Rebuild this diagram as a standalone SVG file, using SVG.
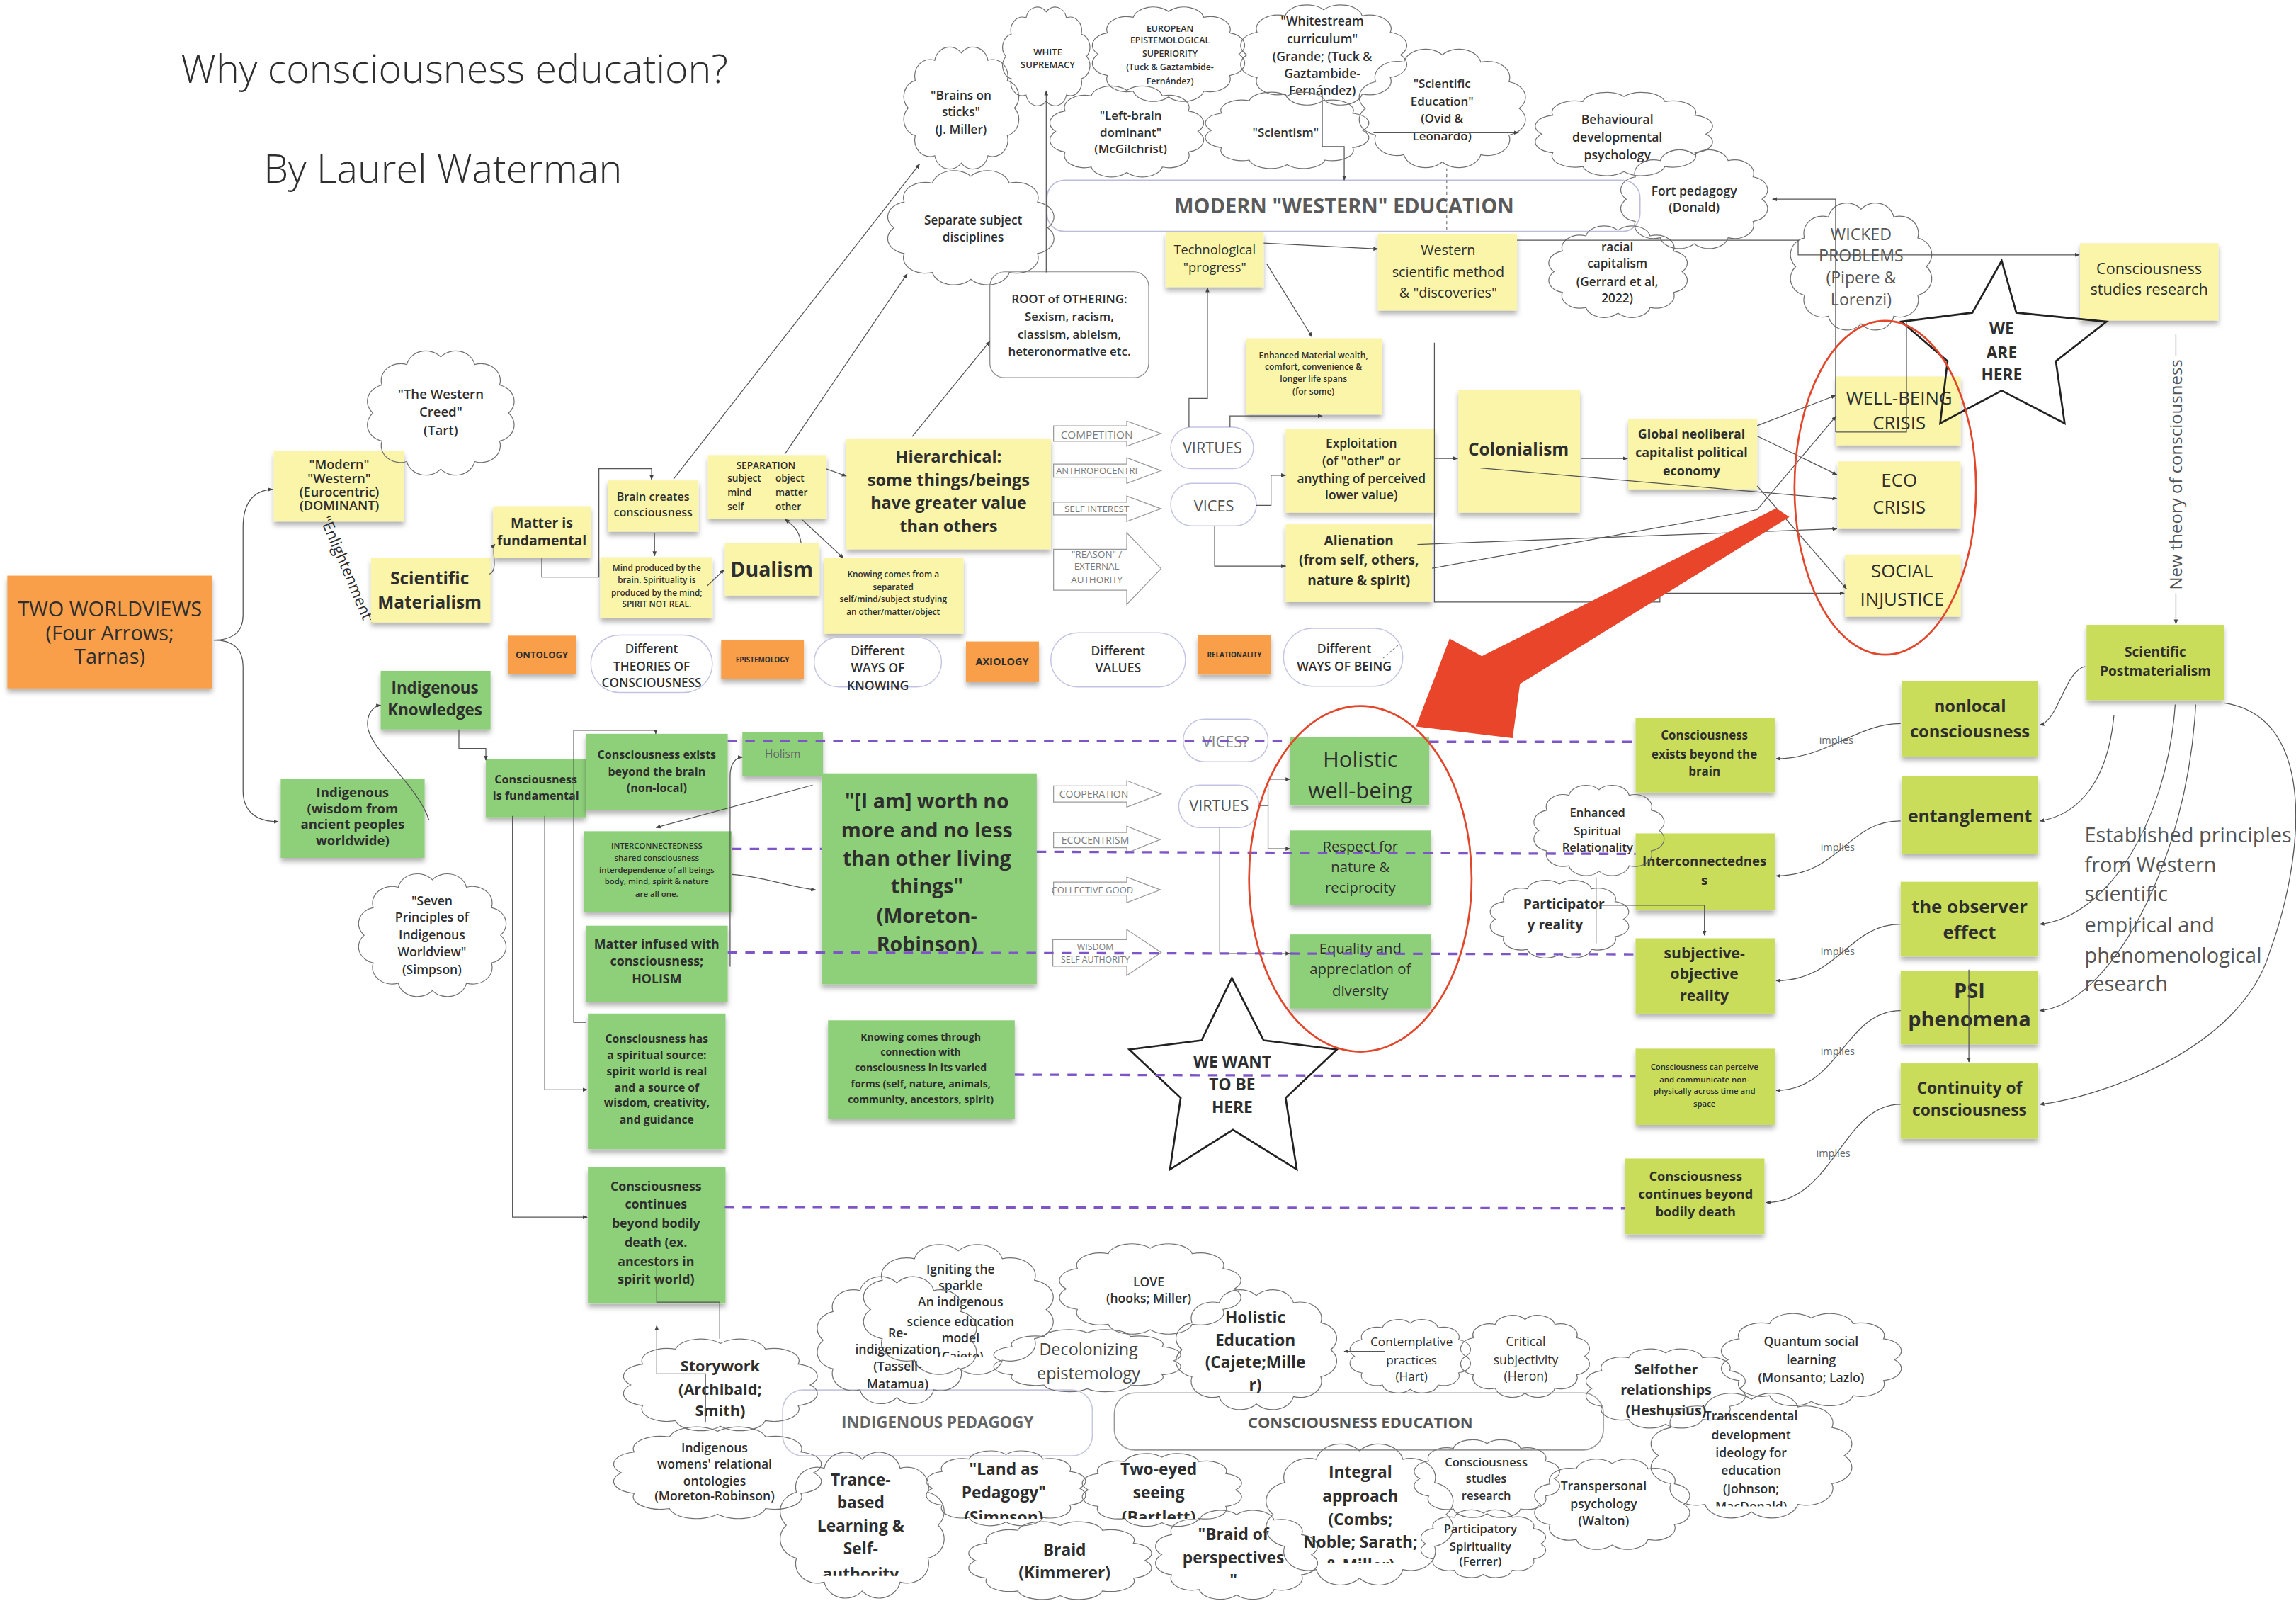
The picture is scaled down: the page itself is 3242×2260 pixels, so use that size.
<svg xmlns="http://www.w3.org/2000/svg" width="3242" height="2260" viewBox="0 0 3242 2260">
<defs>
<style>
text{font-family:'Open Sans','Liberation Sans',sans-serif;fill:#2e2e2e;text-anchor:middle}
.b{font-weight:700}
.sb{font-weight:600}
.st{text-anchor:start}
.y{fill:#faf5a8;filter:url(#sh)}
.g{fill:#8ed07a;filter:url(#sh)}
.l{fill:#c9dd5a;filter:url(#sh)}
.o{fill:#fa9f48;filter:url(#sh)}
.pill{fill:#fff;stroke:#c3c3e3;stroke-width:0.7}
.ba{fill:#fff;stroke:#9a9a9a;stroke-width:0.6}
.gt{fill:#7a7a7a}
.ln{fill:none;stroke:#555;stroke-width:0.6;marker-end:url(#ah)}
.ln0{fill:none;stroke:#555;stroke-width:0.6}
.dash{fill:none;stroke:#7d55c7;stroke-width:1.6;stroke-dasharray:6.5 5.5}
.red{fill:none;stroke:#e2472c;stroke-width:1.3}
.star{fill:none;stroke:#222;stroke-width:1.3}
.cl{fill:none;stroke:#707070;stroke-width:1.2}
</style>
<marker id="ah" viewBox="0 0 10 10" refX="9" refY="5" markerWidth="3.4" markerHeight="3.4" markerUnits="userSpaceOnUse" orient="auto"><path d="M0,1 L10,5 L0,9 Z" fill="#444"/></marker>
<filter id="sh" x="-10%" y="-10%" width="120%" height="140%"><feDropShadow dx="0" dy="2.6" stdDeviation="1.8" flood-color="#000" flood-opacity="0.3"/></filter>
<symbol id="cloud" viewBox="-48 -46 96 92" preserveAspectRatio="none" overflow="visible"><path class="cl" vector-effect="non-scaling-stroke" d="M42,0 A12,12 0 0 1 36.4,20 A12,12 0 0 1 21,34.6 A12,12 0 0 1 0,40 A12,12 0 0 1 -21,34.6 A12,12 0 0 1 -36.4,20 A12,12 0 0 1 -42,0 A12,12 0 0 1 -36.4,-20 A12,12 0 0 1 -21,-34.6 A12,12 0 0 1 0,-40 A12,12 0 0 1 21,-34.6 A12,12 0 0 1 36.4,-20 A12,12 0 0 1 42,0 Z"/></symbol>
<clipPath id="cWs"><rect x="840" y="0" width="130" height="66"/></clipPath>
<clipPath id="cIg"><rect x="580" y="840" width="150" height="86.5"/></clipPath>
<clipPath id="cTr"><rect x="520" y="985" width="140" height="91"/></clipPath>
<clipPath id="cLa"><rect x="620" y="985" width="250" height="52"/></clipPath>
<clipPath id="cIn"><rect x="850" y="980" width="160" height="87"/></clipPath>
<clipPath id="cTc"><rect x="1110" y="940" width="170" height="88.5"/></clipPath>
</defs>
<rect width="3242" height="2260" fill="#fff"/>
<g transform="scale(2.0676)">

<g id="n-title">
<text class="st" x="123.5" y="56.6" font-size="26.9" style="font-weight:300" fill="#333">Why consciousness education?</text>
<text class="st" x="180" y="124.6" font-size="26.9" style="font-weight:300">By Laurel Waterman</text>
</g>

<g id="n-two-worldviews"><rect class="o" x="5" y="393" width="140" height="77"/>
<text font-size="14"><tspan x="75" y="421">TWO WORLDVIEWS</tspan><tspan x="75" y="437">(Four Arrows;</tspan><tspan x="75" y="453">Tarnas)</tspan></text></g>

<g id="n-modern"><rect class="y" x="187" y="308" width="89" height="48"/>
<text class="sb" font-size="8.8"><tspan x="231.7" y="320">"Modern"</tspan><tspan x="231.7" y="330">"Western"</tspan><tspan x="231.7" y="339">(Eurocentric)</tspan><tspan x="231.7" y="348">(DOMINANT)</tspan></text></g>

<g id="n-enlightenment"><text transform="translate(234,391) rotate(67)" font-size="10.5" fill="#555">"Enlightenment"</text></g>

<g id="n-western-creed"><use href="#cloud" x="248" y="238" width="106" height="88"/>
<text class="sb" font-size="9"><tspan x="301" y="272.5">"The Western</tspan><tspan x="301" y="284.6">Creed"</tspan><tspan x="301" y="296.8">(Tart)</tspan></text></g>

<g id="n-sci-mat"><rect class="y" x="253.4" y="381" width="81.6" height="44"/>
<text class="b" font-size="11.8"><tspan x="293.4" y="398.8">Scientific</tspan><tspan x="293.4" y="415.3">Materialism</tspan></text></g>

<g id="n-matter-fund"><rect class="y" x="336.8" y="345.6" width="66.7" height="35.4"/>
<text class="b" font-size="9.4"><tspan x="370" y="360.4">Matter is</tspan><tspan x="370" y="372.6">fundamental</tspan></text></g>

<g id="n-brain-creates"><rect class="y" x="415" y="328" width="62" height="35"/>
<text class="sb" font-size="7.8"><tspan x="446" y="342">Brain creates</tspan><tspan x="446" y="352.6">consciousness</tspan></text></g>

<g id="n-mind-produced"><rect class="y" x="410" y="380.4" width="76.6" height="41.6"/>
<text class="sb" font-size="5.7"><tspan x="448.5" y="390">Mind produced by the</tspan><tspan x="448.5" y="397.9">brain. Spirituality is</tspan><tspan x="448.5" y="406.6">produced by the mind;</tspan><tspan x="448.5" y="414.5">SPIRIT NOT REAL.</tspan></text></g>

<g id="n-dualism"><rect class="y" x="495" y="371" width="64.6" height="35.6"/>
<text class="b" font-size="13.8" x="527" y="393.5">Dualism</text></g>

<g id="n-separation"><rect class="y" x="483.5" y="310.7" width="81" height="43.3"/>
<text class="sb" font-size="6.6" x="523" y="320.3">SEPARATION</text>
<text class="sb st" font-size="6.6"><tspan x="496.8" y="329">subject</tspan><tspan x="496.8" y="338.6">mind</tspan><tspan x="496.8" y="348.2">self</tspan></text>
<text class="sb st" font-size="6.6"><tspan x="529.6" y="329">object</tspan><tspan x="529.6" y="338.6">matter</tspan><tspan x="529.6" y="348.2">other</tspan></text></g>

<g id="n-knowing-separated"><rect class="y" x="563" y="381" width="95" height="51.7"/>
<text class="sb" font-size="5.7"><tspan x="610" y="394.4">Knowing comes from a</tspan><tspan x="610" y="403.1">separated</tspan><tspan x="610" y="411">self/mind/subject studying</tspan><tspan x="610" y="419.7">an other/matter/object</tspan></text></g>

<g id="n-hierarchical"><rect class="y" x="578" y="299.4" width="139.7" height="75.6"/>
<text class="b" font-size="11.4"><tspan x="647.8" y="316">Hierarchical:</tspan><tspan x="647.8" y="331.6">some things/beings</tspan><tspan x="647.8" y="347.2">have greater value</tspan><tspan x="647.8" y="363">than others</tspan></text></g>

<g id="n-competition"><path class="ba" d="M719.5,290.7 H769.5 V287.5 L792.9,296 L769.5,304.6 V301.2 H719.5 Z"/><text class="gt" font-size="7.4" x="749" y="299.4">COMPETITION</text></g>
<g id="n-anthropocentri"><path class="ba" d="M719.5,316.8 H769.5 V312.5 L792.9,321.3 L769.5,330 V325.8 H719.5 Z"/><text class="gt" font-size="6.3" x="749" y="323.6">ANTHROPOCENTRI</text></g>
<g id="n-self-interest"><path class="ba" d="M719.5,342.9 H769.5 V338.6 L792.9,347.3 L769.5,356 V351.6 H719.5 Z"/><text class="gt" font-size="6.5" x="749" y="349.6">SELF INTEREST</text></g>
<g id="n-reason"><path class="ba" d="M719.5,375 H769.5 V363.7 L792.9,388.2 L769.5,412.6 V403 H719.5 Z"/><text class="gt" font-size="6.5"><tspan x="749" y="380.4">"REASON" /</tspan><tspan x="749" y="389">EXTERNAL</tspan><tspan x="749" y="397.9">AUTHORITY</tspan></text></g>

<g id="n-virtues-top"><rect class="pill" x="799.5" y="291.6" width="56.5" height="28.4" rx="14.2"/><text font-size="10.5" x="828" y="309.5" style="fill:#555">VIRTUES</text></g>
<g id="n-vices-top"><rect class="pill" x="799.5" y="330" width="58.5" height="29" rx="14.5"/><text font-size="10.5" x="829" y="349" style="fill:#555">VICES</text></g>

<g id="n-exploitation"><rect class="y" x="878" y="293" width="102" height="57"/>
<text class="sb" font-size="8.4"><tspan x="929.7" y="305.5">Exploitation</tspan><tspan x="929.7" y="317.7">(of "other" or</tspan><tspan x="929.7" y="330">anything of perceived</tspan><tspan x="929.7" y="341.2">lower value)</tspan></text></g>

<g id="n-alienation"><rect class="y" x="878" y="358" width="100" height="53"/>
<text class="b" font-size="9.2"><tspan x="928" y="372.6">Alienation</tspan><tspan x="928" y="385.7">(from self, others,</tspan><tspan x="928" y="399.6">nature &amp; spirit)</tspan></text></g>

<g id="n-colonialism"><rect class="y" x="996" y="266" width="83" height="84"/><text class="b" font-size="11.8" x="1037" y="311">Colonialism</text></g>

<g id="n-global"><rect class="y" x="1112" y="286" width="88" height="48"/>
<text class="b" font-size="8.6"><tspan x="1155.2" y="299.4">Global neoliberal</tspan><tspan x="1155.2" y="312">capitalist political</tspan><tspan x="1155.2" y="324.7">economy</tspan></text></g>

<g id="n-wellbeing-crisis"><rect class="y" x="1254" y="257" width="85" height="47"/><text font-size="12.5"><tspan x="1297" y="276">WELL-BEING</tspan><tspan x="1297" y="293.3">CRISIS</tspan></text></g>
<g id="n-eco-crisis"><rect class="y" x="1255" y="315" width="84" height="46"/><text font-size="12.5"><tspan x="1297" y="332.5">ECO</tspan><tspan x="1297" y="350.8">CRISIS</tspan></text></g>
<g id="n-social-injustice"><rect class="y" x="1260" y="378.6" width="79" height="42.4"/><text font-size="12.5"><tspan x="1299" y="394.4">SOCIAL</tspan><tspan x="1299" y="413.5">INJUSTICE</tspan></text></g>

<g id="n-modern-western-education"><rect x="715" y="123" width="405" height="35" rx="12" fill="#fff" stroke="#bdbddb" stroke-width="0.8"/><text class="b" font-size="14" x="918" y="145.5" style="fill:#5a5a5a">MODERN "WESTERN" EDUCATION</text></g>

<g id="n-technological"><rect class="y" x="796" y="158.6" width="67" height="37.4"/><text font-size="8.8"><tspan x="829.6" y="173.4">Technological</tspan><tspan x="829.6" y="185.6">"progress"</tspan></text></g>
<g id="n-western-method"><rect class="y" x="941" y="159.5" width="95" height="52.5"/><text font-size="9.6"><tspan x="989" y="174.3">Western</tspan><tspan x="989" y="189.1">scientific method</tspan><tspan x="989" y="203">&amp; "discoveries"</tspan></text></g>
<g id="n-enhanced-material"><rect class="y" x="851" y="231" width="93" height="52"/><text class="sb" font-size="5.8"><tspan x="897" y="244.9">Enhanced Material wealth,</tspan><tspan x="897" y="252.7">comfort,  convenience &amp;</tspan><tspan x="897" y="260.5">longer life spans</tspan><tspan x="897" y="269.3">(for some)</tspan></text></g>

<g id="n-root-othering"><rect x="676" y="185.6" width="108.5" height="72.3" rx="10" fill="#fff" stroke="#888" stroke-width="0.6"/>
<text class="sb" font-size="8.2"><tspan x="730.3" y="207">ROOT of OTHERING:</tspan><tspan x="730.3" y="219.3">Sexism, racism,</tspan><tspan x="730.3" y="231">classism, ableism,</tspan><tspan x="730.3" y="243">heteronormative etc.</tspan></text></g>

<g id="n-brains-sticks"><use href="#cloud" x="615" y="30.5" width="83" height="86.5"/><text class="sb" font-size="8.3"><tspan x="656.3" y="68">"Brains on</tspan><tspan x="656.3" y="79.3">sticks"</tspan><tspan x="656.3" y="91.5">(J. Miller)</tspan></text></g>
<g id="n-white-supremacy"><use href="#cloud" x="683" y="3.5" width="63" height="70"/><text class="sb" font-size="6.3"><tspan x="715.6" y="37.5">WHITE</tspan><tspan x="715.6" y="46.2">SUPREMACY</tspan></text></g>
<g id="n-european"><use href="#cloud" x="743" y="3.5" width="110" height="67"/><text class="sb" font-size="6"><tspan x="799" y="21.8">EUROPEAN</tspan><tspan x="799" y="29.7">EPISTEMOLOGICAL</tspan><tspan x="799" y="38.7">SUPERIORITY</tspan><tspan x="799" y="47.9">(Tuck &amp; Gaztambide-</tspan><tspan x="799" y="57.5">Fernández)</tspan></text></g>
<g id="n-whitestream"><use href="#cloud" x="844" y="2" width="120" height="71"/><text class="sb" font-size="8.5"><tspan x="903" y="17.4">"Whitestream</tspan><tspan x="903" y="29.6">curriculum"</tspan><tspan x="903" y="41.8">(Grande; (Tuck &amp;</tspan><tspan x="903" y="53.2">Gaztambide-</tspan></text><text class="sb" font-size="8.5" x="903" y="64.8" clip-path="url(#cWs)">Fernández)</text></g>
<g id="n-left-brain"><use href="#cloud" x="714" y="57.5" width="111" height="64.5"/><text class="sb" font-size="8.2"><tspan x="772.2" y="81.9">"Left-brain</tspan><tspan x="772.2" y="93.2">dominant"</tspan><tspan x="772.2" y="104.5">(McGilchrist)</tspan></text></g>
<g id="n-scientism"><use href="#cloud" x="820" y="62" width="118" height="54"/><text class="sb" font-size="8.2" x="878" y="93.2">"Scientism"</text></g>
<g id="n-scientific-education"><use href="#cloud" x="925" y="32" width="120" height="84"/><text class="sb" font-size="8.2"><tspan x="984.8" y="60.1">"Scientific</tspan><tspan x="984.8" y="72.3">Education"</tspan><tspan x="984.8" y="83.7">(Ovid &amp;</tspan><tspan x="984.8" y="95.8">Leonardo)</tspan></text></g>
<g id="n-behavioural"><use href="#cloud" x="1045" y="62" width="128" height="59"/><text class="sb" font-size="8.5"><tspan x="1104.5" y="84.5">Behavioural</tspan><tspan x="1104.5" y="96.7">developmental</tspan><tspan x="1104.5" y="108.9">psychology</tspan></text></g>
<g id="n-fort"><use href="#cloud" x="1104" y="101" width="106" height="70"/><text class="sb" font-size="8.5"><tspan x="1157" y="133.3">Fort pedagogy</tspan><tspan x="1157" y="144.6">(Donald)</tspan></text></g>
<g id="n-racial"><use href="#cloud" x="1055" y="153" width="100" height="65"/><text class="sb" font-size="8.3"><tspan x="1104.5" y="171.7">racial</tspan><tspan x="1104.5" y="183">capitalism</tspan><tspan x="1104.5" y="195.2">(Gerrard et al,</tspan><tspan x="1104.5" y="206.5">2022)</tspan></text></g>
<g id="n-wicked"><use href="#cloud" x="1220" y="137" width="102" height="90"/><text font-size="11.2" style="fill:#555"><tspan x="1271" y="163.8">WICKED</tspan><tspan x="1271" y="178.7">PROBLEMS</tspan><tspan x="1271" y="193.5">(Pipere &amp;</tspan><tspan x="1271" y="208.3">Lorenzi)</tspan></text></g>
<g id="n-separate-subject"><use href="#cloud" x="603" y="115" width="120" height="81"/><text class="sb" font-size="8.3"><tspan x="664.6" y="153.4">Separate subject</tspan><tspan x="664.6" y="164.7">disciplines</tspan></text></g>

<g id="n-cs-research"><rect class="y" x="1420.5" y="166" width="94.5" height="52.8"/><text font-size="10.5"><tspan x="1467.7" y="187">Consciousness</tspan><tspan x="1467.7" y="201">studies research</tspan></text></g>

<g id="n-we-are-here"><polygon class="star" points="1367,178 1377,213.5 1438.6,219.6 1404,246.6 1410,289 1367,266.7 1325,289 1330,246.6 1298.6,219.6 1347,213.5"/><text class="b" font-size="11"><tspan x="1367" y="228.3">WE</tspan><tspan x="1367" y="244.9">ARE</tspan><tspan x="1367" y="259.7">HERE</tspan></text></g>

<g id="n-new-theory"><text transform="translate(1490,324) rotate(-90)" font-size="11.6" style="fill:#555">New theory of consciousness</text></g>

<g id="n-postmat"><rect class="l" x="1425" y="426.6" width="93.7" height="51.4"/><text class="b" font-size="9.2"><tspan x="1472" y="448.4">Scientific</tspan><tspan x="1472" y="461.4">Postmaterialism</tspan></text></g>
<g id="n-nonlocal"><rect class="l" x="1298.6" y="465" width="93.4" height="51.5"/><text class="b" font-size="11.5"><tspan x="1345.3" y="485.9">nonlocal</tspan><tspan x="1345.3" y="503.3">consciousness</tspan></text></g>
<g id="n-entanglement"><rect class="l" x="1298.6" y="530" width="93.4" height="53"/><text class="b" font-size="12" x="1345.3" y="561.3">entanglement</text></g>
<g id="n-observer"><rect class="l" x="1298" y="602" width="94" height="51"/><text class="b" font-size="12.5"><tspan x="1345" y="623.2">the observer</tspan><tspan x="1345" y="640.7">effect</tspan></text></g>
<g id="n-psi"><rect class="l" x="1298" y="662.6" width="94" height="50.4"/><text class="b" font-size="14"><tspan x="1345" y="681.5">PSI</tspan><tspan x="1345" y="700.8">phenomena</tspan></text></g>
<g id="n-continuity"><rect class="l" x="1298" y="726" width="94" height="51.5"/><text class="b" font-size="11"><tspan x="1345" y="747">Continuity of</tspan><tspan x="1345" y="761.7">consciousness</tspan></text></g>

<g id="n-l-exists"><rect class="l" x="1117" y="490" width="95" height="51"/><text class="b" font-size="8.2"><tspan x="1164" y="505">Consciousness</tspan><tspan x="1164" y="518">exists beyond the</tspan><tspan x="1164" y="529.5">brain</tspan></text></g>
<g id="n-l-interconnectedness"><rect class="l" x="1117" y="569" width="95" height="52.5"/><text class="b" font-size="9"><tspan x="1164" y="591">Interconnectednes</tspan><tspan x="1164" y="604">s</tspan></text></g>
<g id="n-l-subjective"><rect class="l" x="1117" y="640.6" width="95" height="51.4"/><text class="b" font-size="10.2"><tspan x="1164" y="654.6">subjective-</tspan><tspan x="1164" y="668.5">objective</tspan><tspan x="1164" y="683.4">reality</tspan></text></g>
<g id="n-l-perceive"><rect class="l" x="1117" y="716" width="95" height="52"/><text class="sb" font-size="5.5"><tspan x="1164" y="730.3">Consciousness can perceive</tspan><tspan x="1164" y="739">and communicate non-</tspan><tspan x="1164" y="747">physically across time and</tspan><tspan x="1164" y="755.6">space</tspan></text></g>
<g id="n-l-continues"><rect class="l" x="1110" y="791" width="95" height="51.6"/><text class="b" font-size="8.8"><tspan x="1158" y="806.2">Consciousness</tspan><tspan x="1158" y="818.2">continues beyond</tspan><tspan x="1158" y="830.2">bodily death</tspan></text></g>

<g id="n-established"><text class="st" font-size="14" style="fill:#555"><tspan x="1423.6" y="575.3">Established principles</tspan><tspan x="1423.6" y="595.4">from Western</tspan><tspan x="1423.6" y="615.3">scientific</tspan><tspan x="1423.6" y="636.3">empirical and</tspan><tspan x="1423.6" y="657.2">phenomenological</tspan><tspan x="1423.6" y="676.4">research</tspan></text></g>

<g id="n-enhanced-spiritual"><use href="#cloud" x="1045" y="535" width="94" height="64"/><text class="sb" font-size="8"><tspan x="1091" y="557.8">Enhanced</tspan><tspan x="1091" y="570">Spiritual</tspan><tspan x="1091" y="581.4">Relationality</tspan></text></g>
<g id="n-participatory"><use href="#cloud" x="1015" y="600" width="100" height="55"/><text class="b" font-size="9.3"><tspan x="1068" y="620.5">Participator</tspan><tspan x="1062" y="634.5">y reality</tspan></text></g>

<g id="n-ontology"><rect class="o" x="347" y="434" width="46.5" height="26"/><text class="b" font-size="6.3" x="370" y="449.2">ONTOLOGY</text></g>
<g id="n-theories"><rect class="pill" x="403.5" y="433.6" width="83" height="39.2" rx="19.6"/><text class="sb" font-size="8.3"><tspan x="445" y="445.8">Different</tspan><tspan x="445" y="458">THEORIES OF</tspan><tspan x="445" y="469.3">CONSCIOUSNESS</tspan></text></g>
<g id="n-epistemology"><rect class="o" x="492.5" y="437" width="56.5" height="26.5"/><text class="b" font-size="4.8" x="520.7" y="452">EPISTEMOLOGY</text></g>
<g id="n-knowing"><rect class="pill" x="556" y="435" width="87" height="34" rx="17"/><text class="sb" font-size="8.5"><tspan x="599.5" y="447.6">Different</tspan><tspan x="599.5" y="458.9">WAYS OF</tspan><tspan x="599.5" y="471">KNOWING</tspan></text></g>
<g id="n-axiology"><rect class="o" x="659.7" y="438" width="49.8" height="27.7"/><text class="b" font-size="7" x="684.4" y="454.2">AXIOLOGY</text></g>
<g id="n-values"><rect class="pill" x="717.6" y="432" width="92" height="37" rx="18.5"/><text class="sb" font-size="8.5"><tspan x="763.6" y="447.6">Different</tspan><tspan x="763.6" y="458.9">VALUES</tspan></text></g>
<g id="n-relationality"><rect class="o" x="818" y="433.6" width="50" height="27"/><text class="b" font-size="4.8" x="843" y="449">RELATIONALITY</text></g>
<g id="n-being"><rect class="pill" x="876.5" y="429" width="81.5" height="39.5" rx="19.7"/><text class="sb" font-size="8.5"><tspan x="918" y="445.8">Different</tspan><tspan x="918" y="458">WAYS OF BEING</tspan></text></g>

<g id="n-ind-knowledges"><rect class="g" x="260" y="458" width="75" height="40"/><text class="b" font-size="10.8"><tspan x="297" y="473.7">Indigenous</tspan><tspan x="297" y="488.5">Knowledges</tspan></text></g>
<g id="n-ind-wisdom"><rect class="g" x="191.7" y="532" width="98.3" height="53.7"/><text class="b" font-size="9"><tspan x="240.8" y="544">Indigenous</tspan><tspan x="240.8" y="555.2">(wisdom from</tspan><tspan x="240.8" y="565.7">ancient peoples</tspan><tspan x="240.8" y="577">worldwide)</tspan></text></g>
<g id="n-c-fundamental"><rect class="g" x="331.8" y="518" width="68.2" height="40"/><text class="b" font-size="7.8"><tspan x="366" y="534.7">Consciousness</tspan><tspan x="366" y="546">is fundamental</tspan></text></g>
<g id="n-c-exists"><rect class="g" x="400" y="501" width="97" height="52"/><text class="b" font-size="7.8"><tspan x="448.5" y="518">Consciousness exists</tspan><tspan x="448.5" y="529.5">beyond the brain</tspan><tspan x="448.5" y="540.8">(non-local)</tspan></text></g>
<g id="n-holism"><rect class="g" x="507" y="500" width="55" height="30"/><text font-size="7.5" x="534.5" y="517.3" style="fill:#666">Holism</text></g>
<g id="n-interconnectedness"><rect class="g" x="398.6" y="567.5" width="101.4" height="55"/><text class="sb" font-size="5.5"><tspan x="448.5" y="579.6">INTERCONNECTEDNESS</tspan><tspan x="448.5" y="587.5">shared consciousness</tspan><tspan x="448.5" y="595.7">interdependence of all beings</tspan><tspan x="448.5" y="603.6">body, mind, spirit &amp; nature</tspan><tspan x="448.5" y="612.2">are all one.</tspan></text></g>
<g id="n-matter-infused"><rect class="g" x="400" y="632" width="97" height="52"/><text class="b" font-size="8.6"><tspan x="448.5" y="647.6">Matter infused with</tspan><tspan x="448.5" y="659">consciousness;</tspan><tspan x="448.5" y="671.2">HOLISM</tspan></text></g>
<g id="n-spiritual-source"><rect class="g" x="401.5" y="692" width="94" height="92.6"/><text class="b" font-size="7.6"><tspan x="448.5" y="712">Consciousness has</tspan><tspan x="448.5" y="723">a spiritual source:</tspan><tspan x="448.5" y="734.2">spirit world is real</tspan><tspan x="448.5" y="745.2">and a source of</tspan><tspan x="448.5" y="755.6">wisdom, creativity,</tspan><tspan x="448.5" y="767">and guidance</tspan></text></g>
<g id="n-c-continues"><rect class="g" x="401.5" y="797" width="94" height="93"/><text class="b" font-size="8.6"><tspan x="448" y="813">Consciousness</tspan><tspan x="448" y="825">continues</tspan><tspan x="448" y="838">beyond bodily</tspan><tspan x="448" y="851">death (ex.</tspan><tspan x="448" y="864.3">ancestors in</tspan><tspan x="448" y="876.5">spirit world)</tspan></text></g>
<g id="n-i-am"><rect class="g" x="561" y="528" width="147" height="144"/><text class="b" font-size="13.8"><tspan x="633" y="552">"[I am] worth no</tspan><tspan x="633" y="571.7">more and no less</tspan><tspan x="633" y="591">than other living</tspan><tspan x="633" y="610">things"</tspan><tspan x="633" y="630">(Moreton-</tspan><tspan x="633" y="649.4">Robinson)</tspan></text></g>
<g id="n-knowing-through"><rect class="g" x="565.5" y="696.6" width="127.5" height="67.4"/><text class="b" font-size="6.8"><tspan x="628.8" y="710.3">Knowing comes through</tspan><tspan x="628.8" y="720.8">connection with</tspan><tspan x="628.8" y="731.3">consciousness in its varied</tspan><tspan x="628.8" y="742.6">forms (self, nature, animals,</tspan><tspan x="628.8" y="753">community, ancestors, spirit)</tspan></text></g>

<g id="n-seven"><use href="#cloud" x="242" y="595" width="106.5" height="87"/><text class="sb" font-size="8.5"><tspan x="295" y="618">"Seven</tspan><tspan x="295" y="629.3">Principles of</tspan><tspan x="295" y="641.5">Indigenous</tspan><tspan x="295" y="652.9">Worldview"</tspan><tspan x="295" y="665">(Simpson)</tspan></text></g>

<g id="n-vices-q"><rect class="pill" x="808" y="491" width="58" height="29" rx="14.5"/><text font-size="10.5" x="837" y="510.3" style="fill:#888">VICES?</text></g>
<g id="n-virtues-low"><rect class="pill" x="805" y="536" width="55" height="29" rx="14.5"/><text font-size="10.5" x="832.5" y="554" style="fill:#555">VIRTUES</text></g>
<g id="n-cooperation"><path class="ba" d="M719.5,536.5 H769.5 V533 L792.9,542 L769.5,551 V547.5 H719.5 Z"/><text class="gt" font-size="6.8" x="747" y="544.5">COOPERATION</text></g>
<g id="n-ecocentrism"><path class="ba" d="M719.5,568.3 H769.5 V564 L792.3,573.2 L769.5,582.3 V578.8 H719.5 Z"/><text class="gt" font-size="6.8" x="748" y="576">ECOCENTRISM</text></g>
<g id="n-collective"><path class="ba" d="M719.5,602.2 H769.5 V598.8 L792.5,607.5 L769.5,616.2 V611.1 H719.5 Z"/><text class="gt" font-size="6.3" x="746" y="609.8">COLLECTIVE GOOD</text></g>
<g id="n-wisdom"><path class="ba" d="M719,641.5 H769.5 V634.6 L793,650.3 L769.5,666 V659.7 H719 Z"/><text class="gt" font-size="6"><tspan x="748" y="648.5">WISDOM</tspan><tspan x="748" y="657.2">SELF AUTHORITY</tspan></text></g>

<g id="n-holistic-wellbeing"><rect class="g" x="881" y="503" width="95" height="47"/><text font-size="15"><tspan x="929" y="524">Holistic</tspan><tspan x="929" y="545">well-being</tspan></text></g>
<g id="n-respect"><rect class="g" x="881" y="567" width="96" height="51"/><text font-size="9.8"><tspan x="929" y="581.3">Respect for</tspan><tspan x="929" y="595.4">nature &amp;</tspan><tspan x="929" y="609.3">reciprocity</tspan></text></g>
<g id="n-equality"><rect class="g" x="881" y="638" width="96" height="50.6"/><text font-size="9.8"><tspan x="929" y="651">Equality and</tspan><tspan x="929" y="665">appreciation of</tspan><tspan x="929" y="679.9">diversity</tspan></text></g>

<g id="n-we-want"><polygon class="star" points="841.3,667.7 863,710.3 913,716.5 878,749.6 885.6,798.4 842,771.4 799,798.4 806.3,749.6 771.2,716.5 820.6,710.3"/><text class="b" font-size="11"><tspan x="841.5" y="728.7">WE WANT</tspan><tspan x="841.5" y="744.4">TO BE</tspan><tspan x="841.5" y="760">HERE</tspan></text></g>

<g id="n-ind-pedagogy"><rect x="534.5" y="949" width="211.5" height="45" rx="14" fill="none" stroke="#c6c6df" stroke-width="0.8"/><text class="b" font-size="10.8" x="640.2" y="975" style="fill:#666">INDIGENOUS PEDAGOGY</text></g>
<g id="n-cons-education"><rect x="761" y="951" width="334" height="39" rx="14" fill="none" stroke="#999" stroke-width="0.8"/><text class="b" font-size="10.6" x="929" y="975" style="fill:#555">CONSCIOUSNESS EDUCATION</text></g>

<g id="n-storywork"><use href="#cloud" x="422" y="913" width="140" height="65"/><text class="b" font-size="10.5"><tspan x="491.8" y="936.4">Storywork</tspan><tspan x="491.8" y="952.3">(Archibald;</tspan><tspan x="491.8" y="967">Smith)</tspan></text></g>
<g id="n-ind-women"><use href="#cloud" x="415" y="973" width="150" height="65"/><text class="sb" font-size="8.5"><tspan x="488" y="991.5">Indigenous</tspan><tspan x="488" y="1002.8">womens' relational</tspan><tspan x="488" y="1014.2">ontologies</tspan><tspan x="488" y="1024.5">(Moreton-Robinson)</tspan></text></g>
<g id="n-igniting"><use href="#cloud" x="586" y="848" width="137" height="92"/><text class="sb" font-size="8.5"><tspan x="656" y="869.4">Igniting the</tspan><tspan x="656" y="880.7">sparkle</tspan><tspan x="656" y="892">An indigenous</tspan><tspan x="656" y="905.2">science education</tspan><tspan x="656" y="916.5">model</tspan></text><text class="sb" font-size="8.5" x="656" y="929" clip-path="url(#cIg)">(Cajete)</text></g>
<g id="n-reindig"><use href="#cloud" x="555" y="870" width="115" height="90"/><text class="sb" font-size="8.5"><tspan x="613" y="913">Re-</tspan><tspan x="613" y="924.3">indigenization</tspan><tspan x="613" y="935.7">(Tassell-</tspan><tspan x="613" y="948">Matamua)</tspan></text></g>
<g id="n-love"><use href="#cloud" x="720" y="848" width="131" height="64"/><text class="sb" font-size="8.5"><tspan x="784.5" y="878.2">LOVE</tspan><tspan x="784.5" y="889.5">(hooks; Miller)</tspan></text></g>
<g id="n-decolonizing"><use href="#cloud" x="675" y="907" width="135" height="44"/><text font-size="11.3" style="fill:#444"><tspan x="743.4" y="925.2">Decolonizing</tspan><tspan x="743.4" y="941.7">epistemology</tspan></text></g>
<g id="n-holistic-education"><use href="#cloud" x="800" y="879" width="116" height="85"/><text class="b" font-size="11"><tspan x="857.3" y="903.5">Holistic</tspan><tspan x="857.3" y="919">Education</tspan><tspan x="857.3" y="934">(Cajete;Mille</tspan><tspan x="857.3" y="949.6">r)</tspan></text></g>
<g id="n-contemplative"><use href="#cloud" x="919.6" y="900" width="87" height="52"/><text font-size="8.3"><tspan x="964" y="919">Contemplative</tspan><tspan x="964" y="931.3">practices</tspan><tspan x="964" y="942.7">(Hart)</tspan></text></g>
<g id="n-critical"><use href="#cloud" x="995" y="897" width="93" height="58"/><text font-size="8.5"><tspan x="1042" y="919">Critical</tspan><tspan x="1042" y="931.3">subjectivity</tspan><tspan x="1042" y="942.7">(Heron)</tspan></text></g>
<g id="n-cs-cloud"><use href="#cloud" x="963" y="982" width="105" height="55"/><text class="sb" font-size="8"><tspan x="1015" y="1001">Consciousness</tspan><tspan x="1015" y="1012.3">studies</tspan><tspan x="1015" y="1023.9">research</tspan></text></g>
<g id="n-participatory-spirituality"><use href="#cloud" x="968" y="1030" width="90" height="48"/><text class="sb" font-size="8"><tspan x="1011" y="1046.4">Participatory</tspan><tspan x="1011" y="1058.6">Spirituality</tspan><tspan x="1011" y="1069">(Ferrer)</tspan></text></g>
<g id="n-trance"><use href="#cloud" x="529.6" y="989.6" width="118.4" height="103.4"/><text class="b" font-size="11"><tspan x="587.8" y="1014">Trance-</tspan><tspan x="587.8" y="1029.8">based</tspan><tspan x="587.8" y="1045.5">Learning &amp;</tspan><tspan x="587.8" y="1061">Self-</tspan></text><text class="b" font-size="11" x="587.8" y="1078.5" clip-path="url(#cTr)">authority</text></g>
<g id="n-land"><use href="#cloud" x="629.5" y="989.6" width="115" height="53"/><text class="b" font-size="11"><tspan x="685.5" y="1007">"Land as</tspan><tspan x="685.5" y="1022.8">Pedagogy"</tspan></text><text class="b" font-size="11" x="685.5" y="1040" clip-path="url(#cLa)">(Simpson)</text></g>
<g id="n-two-eyed"><use href="#cloud" x="736" y="991.5" width="115" height="51.5"/><text class="b" font-size="11"><tspan x="791.3" y="1007">Two-eyed</tspan><tspan x="791.3" y="1022.8">seeing</tspan></text><text class="b" font-size="11" x="791.3" y="1040" clip-path="url(#cLa)">(Bartlett)</text></g>
<g id="n-braid"><use href="#cloud" x="658" y="1038" width="132" height="55"/><text class="b" font-size="11"><tspan x="727" y="1062">Braid</tspan><tspan x="727" y="1077.7">(Kimmerer)</tspan></text></g>
<g id="n-braid-of"><use href="#cloud" x="786" y="1030" width="117" height="63"/><text class="b" font-size="11"><tspan x="842.3" y="1051.6">"Braid of</tspan><tspan x="842.3" y="1067.3">perspectives</tspan><tspan x="842.3" y="1083">"</tspan></text></g>
<g id="n-integral"><use href="#cloud" x="861" y="984" width="135" height="100"/><text class="b" font-size="11"><tspan x="929" y="1009">Integral</tspan><tspan x="929" y="1025.4">approach</tspan><tspan x="929" y="1041.2">(Combs;</tspan><tspan x="929" y="1056.8">Noble; Sarath;</tspan></text><text class="b" font-size="11" x="929" y="1072.5" clip-path="url(#cIn)">&amp; Miller)</text></g>
<g id="n-transpersonal"><use href="#cloud" x="1045" y="995" width="112" height="64"/><text class="sb" font-size="8.5"><tspan x="1095.2" y="1017.6">Transpersonal</tspan><tspan x="1095.2" y="1029.7">psychology</tspan><tspan x="1095.2" y="1041.2">(Walton)</tspan></text></g>
<g id="n-selfother"><use href="#cloud" x="1080" y="920" width="115" height="56"/><text class="b" font-size="9.5"><tspan x="1137.8" y="938.3">Selfother</tspan><tspan x="1137.8" y="952.3">relationships</tspan><tspan x="1137.8" y="966.2">(Heshusius)</tspan></text></g>
<g id="n-quantum"><use href="#cloud" x="1172" y="895.6" width="130" height="65.4"/><text class="sb" font-size="8.5"><tspan x="1236.9" y="919.1">Quantum social</tspan><tspan x="1236.9" y="931.3">learning</tspan><tspan x="1236.9" y="943.6">(Monsanto; Lazlo)</tspan></text></g>
<g id="n-transcendental"><use href="#cloud" x="1123.6" y="949.6" width="145" height="88.4"/><text class="sb" font-size="8.5"><tspan x="1195.9" y="969.7">Transcendental</tspan><tspan x="1195.9" y="982.7">development</tspan><tspan x="1195.9" y="994.9">ideology for</tspan><tspan x="1195.9" y="1007.2">education</tspan><tspan x="1195.9" y="1019.3">(Johnson;</tspan></text><text class="sb" font-size="8.5" x="1195.9" y="1031.5" clip-path="url(#cTc)">MacDonald)</text></g>

<g id="connectors">
<path class="ln" d="M146,437 C158,437 166,432 166,420 L166,360 C166,344 172,335 186,334"/>
<path class="ln" d="M146,437 C158,437 166,442 166,455 L166,540 C166,553 174,561 190,561"/>
<path class="ln" d="M334,392 C341,390 335,375 338,371.5"/>
<path class="ln" d="M370,381 V394 H409 V320 H445 V327.5"/>
<path class="ln" d="M447,364 V379.5"/>
<path class="ln" d="M483,400 L494.5,389"/>
<path class="ln" d="M547,370.5 C546,362 541,358 536,354.5"/>
<path class="ln" d="M548,355 L576,381"/>
<path class="ln" d="M564,320 L578,325"/>
<path class="ln" d="M460,327 L628,112"/>
<path class="ln" d="M536,310 L619.5,187"/>
<path class="ln" d="M623,298 L676,233"/>
<path class="ln" d="M714.5,186 V62"/>
<path class="ln" d="M903,61 V100 H918 V123"/>
<path class="ln" d="M938,90.6 H1037"/>
<path d="M988,115 V158" stroke="#777" stroke-width="0.6" stroke-dasharray="2 2" fill="none"/>
<path class="ln" d="M863,166 L941,170"/>
<path class="ln" d="M865,180 L896,230"/>
<path class="ln" d="M812,291.6 V272 H824.6 V196.5"/>
<path class="ln" d="M840,291.6 V284 H903"/>
<path class="ln" d="M858,345 H868 V324.5 H878"/>
<path class="ln" d="M829.5,359 V386.5 H878"/>
<path class="ln" d="M979.6,234 V411 H1133.6 V405 H1259.5"/>
<path class="ln" d="M979.6,313 H995.5"/>
<path class="ln" d="M1080,313 H1111.5"/>
<path class="ln" d="M1011,319.5 L1254.5,340.5"/>
<path class="ln" d="M968,371.7 L1254.5,361"/>
<path class="ln" d="M978,388 L1200,348 L1254,284"/>
<path class="ln" d="M1200,290.6 L1253.5,270"/>
<path class="ln" d="M1200,297.7 L1254.5,324"/>
<path class="ln" d="M1200,331.7 L1261,402"/>
<path class="ln" d="M1253.6,295 V136 H1210.5"/>
<path class="ln0" d="M1253.6,295 H1302 V220"/>
<path class="ln" d="M1036,164 H1228 V174 H1420"/>
<path class="ln0" d="M1486,228 V243"/>
<path class="ln" d="M1486,405 V426"/>
<path class="ln" d="M1424,455 C1410,458 1406,492 1393,495"/>
<path class="ln" d="M1443.7,488 C1440,530 1422,556 1393,560.5"/>
<path class="ln" d="M1485.5,481 C1480,560 1440,626 1393,631"/>
<path class="ln" d="M1499.5,481 C1494,590 1440,686 1393,690"/>
<path class="ln" d="M1519,480 C1585,490 1572,590 1550,650 C1530,718 1430,750 1393,754"/>
<path class="ln" d="M1344.6,662 V725"/>
<path class="ln" d="M1298,494 C1268,494 1248,518 1213,518"/>
<path class="ln" d="M1298,560.5 C1262,560 1256,598 1213,598"/>
<path class="ln" d="M1298,631 C1262,631 1256,669.5 1213,669.5"/>
<path class="ln" d="M1298,690 C1260,690 1256,744.5 1213,744.5"/>
<path class="ln" d="M1298,754 C1258,754 1252,821 1206,821"/>
<text font-size="7" x="1254" y="508" style="fill:#666">implies</text>
<text font-size="7" x="1255" y="581" style="fill:#666">implies</text>
<text font-size="7" x="1255" y="652" style="fill:#666">implies</text>
<text font-size="7" x="1255" y="720" style="fill:#666">implies</text>
<text font-size="7" x="1252" y="790" style="fill:#666">implies</text>
<path class="ln0" d="M1090,599 V644"/>
<path class="ln" d="M1090,618 H1164 V638.5"/>
<path class="ln" d="M293,560 C285,535 250,510 251,494 C251,487 255,482 260,481.5"/>
<path class="ln" d="M313.4,498 V511 H331.8 V519"/>
<path class="ln" d="M400,698 H391.8 V498.6 H447.8 V501"/>
<path class="ln" d="M372,557 V744 H401"/>
<path class="ln" d="M350,557 V831 H401"/>
<path class="ln" d="M555,536 L448,565"/>
<path class="ln" d="M500,597 C520,598 540,606 557,607.5"/>
<path class="ln" d="M498.6,660 V530 C498.6,522 502,517 507,517"/>
<path class="ln0" d="M448.5,863 V889 H491.5 V914"/>
<path class="ln" d="M481.8,971 V938 H448.5 V905"/>
<path class="ln" d="M946,922.6 H918"/>
<path class="ln" d="M833,565 V651 H881"/>
<path class="ln" d="M860,550 H866 V532 H881"/>
<path class="ln" d="M866,550 V579.5 H881"/>
<path d="M954.7,440.6 L944.6,449.3" stroke="#888" stroke-width="0.6" stroke-dasharray="1.5 1.5" fill="none"/>
<path class="dash" d="M497,506 H881"/>
<path class="dash" d="M976,506.5 H1117"/>
<path class="dash" d="M500,579.6 H561"/>
<path class="dash" d="M708,581.5 L1117,583"/>
<path class="dash" d="M497,650.2 L1117,651.5"/>
<path class="dash" d="M693,733.7 L1117,735"/>
<path class="dash" d="M495,824 L1110,825"/>
</g>

<g id="highlights">
<ellipse class="red" cx="1287.5" cy="333" rx="62" ry="114"/>
<ellipse class="red" cx="929" cy="600" rx="76" ry="118"/>
<polygon points="1213,347 1222,353 1038,467 1033,504 967,496 990,436 1012,448" fill="#e8452a"/>
</g>

</g>
</svg>
